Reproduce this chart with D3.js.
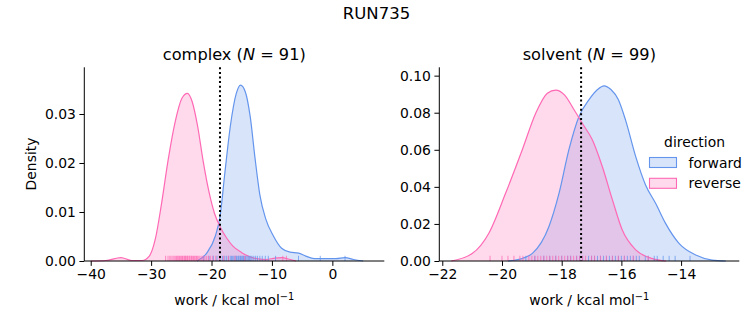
<!DOCTYPE html>
<html><head><meta charset="utf-8">
<script src="https://cdn.jsdelivr.net/npm/d3@7"></script>
<style>body{margin:0;background:#fff}svg{font-family:"DejaVu Sans",sans-serif}</style>
</head><body><svg id="c" width="753" height="325"></svg>
<script>
const figTitle = "RUN735";
const panels = ["complex", "solvent"];
const sampleCounts = [91, 99];
const directions = ["forward", "reverse"];
const colors = ["#6495ED", "#FF69B4"];
const vlines = [-18.6, -17.35];

// complex density curves [work, density]
const complexForward = [[-22.4,0],[-20.8,0.0016],[-19.4,0.005],[-18.6,0.009],[-17.8,0.0179],[-16.9,0.0274],[-15.9,0.0342],[-15.2,0.0359],[-14.4,0.0345],[-13.6,0.0295],[-12.8,0.021],[-12.0,0.0135],[-11.0,0.0085],[-9.8,0.0052],[-8.4,0.0026],[-7.0,0.0018],[-5.6,0.0016],[-4.4,0.0010],[-3.0,0.0005],[-1.2,0.0005],[0.6,0.0005],[2.1,0.0007],[3.5,0.0003],[5.1,0]];
const complexReverse = [[-40,0],[-37.5,0.0001],[-35,0.0007],[-33.2,0.0001],[-31.5,0.0001],[-30.3,0.0010],[-29.3,0.0045],[-28.3,0.0115],[-27.2,0.0205],[-26.0,0.0285],[-24.9,0.0332],[-24.0,0.0342],[-23.2,0.0325],[-22.3,0.0275],[-21.4,0.0205],[-20.4,0.014],[-19.5,0.0097],[-18.5,0.0068],[-17.5,0.0047],[-16.5,0.0031],[-15.0,0.0017],[-13.0,0.0006],[-11.0,0.0003],[-9.5,0.0006],[-8.3,0.0007],[-7.3,0.0004],[-6.0,0]];
// solvent density curves
const solventForward = [[-19.8,0],[-19.3,0.0015],[-18.98,0.0041],[-18.43,0.0185],[-18.09,0.0365],[-17.76,0.06],[-17.42,0.078],[-17.09,0.0869],[-16.8,0.0925],[-16.58,0.0945],[-16.35,0.0925],[-16.1,0.087],[-15.86,0.076],[-15.52,0.0563],[-15.19,0.041],[-14.85,0.031],[-14.52,0.0203],[-14.07,0.0095],[-13.51,0.0032],[-12.96,0.0005],[-12.5,0]];
const solventReverse = [[-21.7,0],[-21.0,0.004],[-20.44,0.015],[-19.88,0.0365],[-19.32,0.06],[-18.87,0.0797],[-18.48,0.0905],[-18.2,0.0922],[-17.9,0.0895],[-17.6,0.082],[-17.31,0.0743],[-16.97,0.0653],[-16.64,0.051],[-16.3,0.033],[-15.97,0.0167],[-15.52,0.006],[-14.96,0.0013],[-14.5,0]];

// rug samples (work values)
const complexForwardRug = [-21.3,-20.4,-19.7,-19.1,-18.6,-18.2,-17.8,-17.5,-17.2,-16.9,-16.7,-16.5,-16.3,-16.1,-15.9,-15.8,-15.6,-15.5,-15.3,-15.2,-15.0,-14.9,-14.7,-14.6,-14.4,-14.3,-14.1,-13.9,-13.7,-13.5,-13.3,-13.0,-12.7,-12.4,-12.0,-11.6,-11.1,-10.6,-9.4,-5.6,-2.0,2.1];
const complexReverseRug = [-27.6,-27.2,-26.9,-26.7,-26.4,-26.2,-26.0,-25.8,-25.6,-25.5,-25.3,-25.1,-25.0,-24.8,-24.7,-24.5,-24.4,-24.3,-24.1,-24.0,-23.9,-23.7,-23.6,-23.4,-23.3,-23.1,-23.0,-22.8,-22.6,-22.5,-22.3,-22.1,-21.9,-21.6,-21.4,-21.1,-20.8,-20.5,-20.2,-19.8,-19.3,-18.7,-18.0,-17.2,-16.1,-14.5,-8.2,-7.6];
const solventForwardRug = [-19.2,-18.9,-18.6,-18.4,-18.2,-18.0,-17.8,-17.7,-17.5,-17.4,-17.3,-17.1,-17.0,-16.9,-16.8,-16.7,-16.6,-16.5,-16.4,-16.3,-16.2,-16.1,-16.0,-15.9,-15.8,-15.7,-15.6,-15.5,-15.4,-15.2,-15.1,-14.9,-14.8,-14.6,-14.4,-14.2,-13.7];
const solventReverseRug = [-20.4,-20.0,-19.8,-19.6,-19.4,-19.3,-19.1,-19.0,-18.9,-18.8,-18.7,-18.6,-18.5,-18.4,-18.3,-18.2,-18.1,-18.0,-17.9,-17.8,-17.7,-17.6,-17.5,-17.4,-17.3,-17.2,-17.0,-16.9,-16.7,-16.5,-16.3,-16.1,-15.9,-15.6,-15.1];

const complexXTicks = [-40,-30,-20,-10,0];
const complexYTicks = [0,0.01,0.02,0.03];
const solventXTicks = [-22,-20,-18,-16,-14];
const solventYTicks = [0,0.02,0.04,0.06,0.08,0.10];

const cfg = [
  {x0:84.3, x1:384.3, xd:[-41.06,8.6], yd:[0,0.03953], xt:complexXTicks, yt:complexYTicks, yf:".2f",
   curves:[complexForward, complexReverse], rugs:[complexForwardRug, complexReverseRug]},
  {x0:439.3, x1:739.3, xd:[-22.1,-12.05], yd:[0,0.1045], xt:solventXTicks, yt:solventYTicks, yf:".2f",
   curves:[solventForward, solventReverse], rugs:[solventForwardRug, solventReverseRug]}
];
const yTop = 67.3, yBot = 261;
const FS = 13.9;
const svg = d3.select("#c");
const fmtMinus = s => s.replace("-", "\u2212");

svg.append("text").attr("x", 376.5).attr("y", 19).attr("text-anchor","middle")
  .attr("font-size", 16.5).text(figTitle);

cfg.forEach((c, i) => {
  const x = d3.scaleLinear().domain(c.xd).range([c.x0, c.x1]);
  const y = d3.scaleLinear().domain(c.yd).range([yBot, yTop]);
  const g = svg.append("g");
  const area = d3.area().x(d => x(d[0])).y0(yBot).y1(d => y(d[1])).curve(d3.curveMonotoneX);
  const line = d3.line().x(d => x(d[0])).y(d => y(d[1])).curve(d3.curveMonotoneX);
  c.curves.forEach((cv, k) => {
    g.append("path").datum(cv).attr("d", area).attr("fill", colors[k]).attr("fill-opacity", 0.25);
  });
  c.curves.forEach((cv, k) => {
    g.append("path").datum(cv).attr("d", line).attr("fill","none").attr("stroke", colors[k]).attr("stroke-width", 1.2);
  });
  // rugs
  c.rugs.forEach((r, k) => {
    g.selectAll(null).data(r).enter().append("line")
      .attr("x1", d => x(d)).attr("x2", d => x(d))
      .attr("y1", yBot).attr("y2", yBot - 5.2)
      .attr("stroke", colors[k]).attr("stroke-opacity", 0.75).attr("stroke-width", 1);
  });
  // vertical dotted line
  g.append("line").attr("x1", x(vlines[i])).attr("x2", x(vlines[i]))
    .attr("y1", yTop).attr("y2", yBot).attr("stroke","#000").attr("stroke-width", 2)
    .attr("stroke-dasharray","2,2.6");
  // axes
  const xa = g.append("g").attr("transform", `translate(0,${yBot})`)
    .call(d3.axisBottom(x).tickValues(c.xt).tickSize(4.9).tickPadding(3.5).tickFormat(d => fmtMinus(d3.format("d")(d))));
  const ya = g.append("g").attr("transform", `translate(${c.x0},0)`)
    .call(d3.axisLeft(y).tickValues(c.yt).tickSize(4.9).tickPadding(3.5).tickFormat(d3.format(c.yf)));
  [xa, ya].forEach(a => {
    a.selectAll("text").attr("font-size", FS).attr("fill","#000").attr("font-family","DejaVu Sans");
    a.selectAll(".tick line").attr("stroke","#000").attr("stroke-width",1);
  });
  xa.select(".domain").remove();
  ya.select(".domain").remove();
  g.append("line").attr("x1", c.x0).attr("x2", c.x1).attr("y1", yBot).attr("y2", yBot).attr("stroke","#000");
  g.append("line").attr("x1", c.x0).attr("x2", c.x0).attr("y1", yTop).attr("y2", yBot).attr("stroke","#000");
  // subtitle
  const cx = (c.x0 + c.x1) / 2;
  const t = g.append("text").attr("x", cx).attr("y", 60).attr("text-anchor","middle").attr("font-size", 16.2);
  t.append("tspan").text(panels[i] + " (");
  t.append("tspan").attr("font-style","italic").text("N");
  t.append("tspan").text(" = " + sampleCounts[i] + ")");
  // x label
  const xl = g.append("text").attr("x", cx).attr("y", 305).attr("text-anchor","middle").attr("font-size", FS);
  xl.append("tspan").text("work / kcal mol");
  xl.append("tspan").attr("dy", -5.5).attr("font-size", 9.8).text("\u22121");
});

svg.append("text").attr("transform","translate(35.5,164) rotate(-90)").attr("text-anchor","middle")
  .attr("font-size", FS).text("Density");

// legend
const lg = svg.append("g");
lg.append("text").attr("x", 694.5).attr("y", 146.5).attr("text-anchor","middle").attr("font-size", FS).text("direction");
directions.forEach((d, k) => {
  const yy = 157.5 + k * 20.8;
  lg.append("rect").attr("x", 649.5).attr("y", yy).attr("width", 27).attr("height", 10)
    .attr("fill", colors[k]).attr("fill-opacity", 0.25).attr("stroke", colors[k]).attr("stroke-width", 1.1);
  lg.append("text").attr("x", 688.5).attr("y", yy + 10).attr("font-size", FS).text(d);
});
</script></body></html>
